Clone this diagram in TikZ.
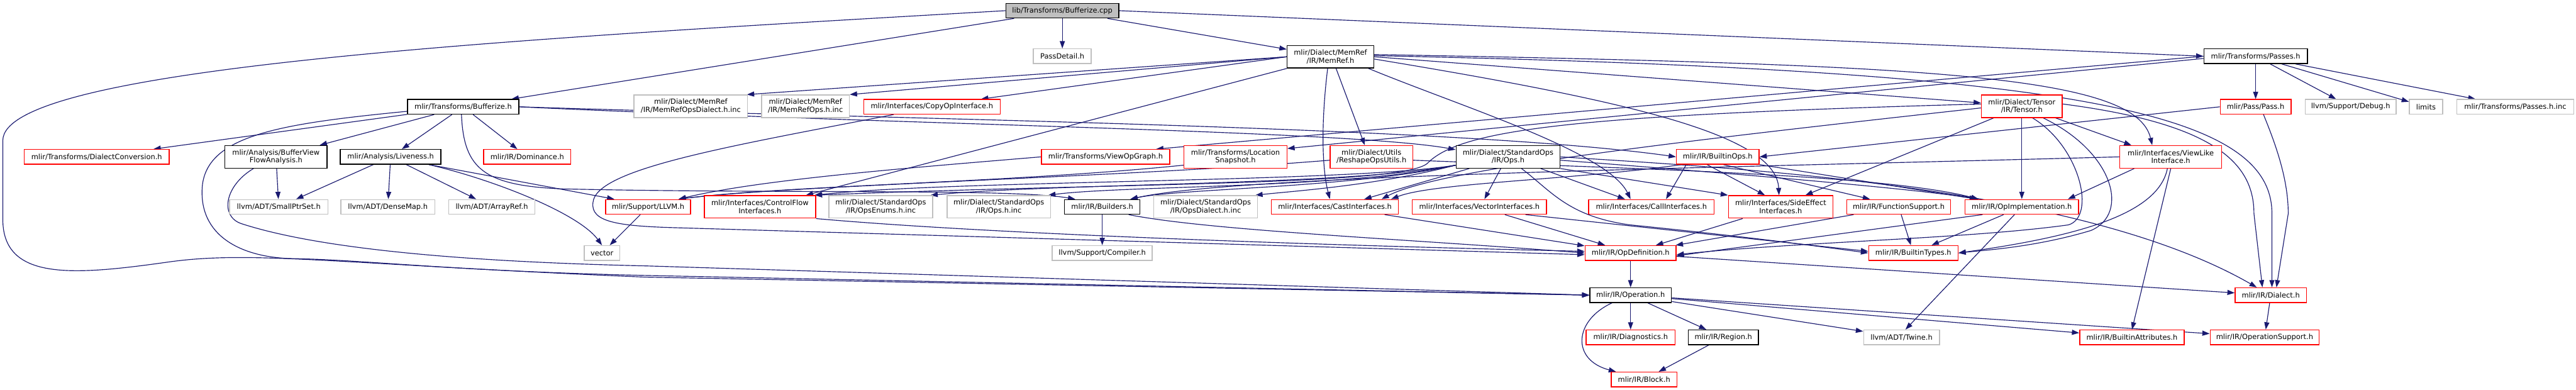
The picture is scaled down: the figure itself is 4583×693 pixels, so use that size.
\documentclass[tikz,border=0pt]{standalone}
\usepackage{fontspec}
\newfontfamily\dvs{DejaVu Sans}
\usetikzlibrary{arrows.meta}
\definecolor{edgec}{HTML}{191970}
\definecolor{gborder}{HTML}{BFBFBF}
\definecolor{rborder}{HTML}{FF0000}
\pgfdeclarelayer{bglayer}
\pgfdeclarelayer{edgelayer}
\pgfsetlayers{bglayer,edgelayer,main}
\begin{document}
\begin{tikzpicture}[x=1pt,y=-1pt,
  box/.style={rectangle, line width=1.6pt, font=\dvs\fontsize{12.8pt}{14pt}\selectfont, align=center, inner xsep=2pt, inner ysep=0pt, minimum height=26pt, fill=white},
  nb/.style={box, draw=black},
  nr/.style={box, draw=rborder},
  ng/.style={box, draw=gborder},
  two/.style={minimum height=40pt},
  e/.style={draw=edgec, line width=1.3pt, -{Triangle[length=13pt,width=9pt]}}]
\begin{pgfonlayer}{bglayer}
\fill[white] (0,0) rectangle (4583,693);
\end{pgfonlayer}
\useasboundingbox (0,0) rectangle (4583,693);
% nodes
\node[box, draw=black, fill=gborder, minimum width=201pt] (cpp) at (1890,19) {lib/Transforms/Bufferize.cpp};
\node[ng, minimum width=103pt] (passdetail) at (1890,100) {PassDetail.h};
\node[nb, two, minimum width=154pt] (memref) at (2367,101) {mlir/Dialect/MemRef\\/IR/MemRef.h};
\node[nb, minimum width=184pt] (passes) at (4013,100) {mlir/Transforms/Passes.h};
\node[nb, minimum width=198pt] (bufh) at (824,190) {mlir/Transforms/Bufferize.h};
\node[ng, two, minimum width=202pt] (memrefdialinc) at (1229,189) {mlir/Dialect/MemRef\\/IR/MemRefOpsDialect.h.inc};
\node[ng, two, minimum width=156pt] (memrefopsinc) at (1433,189) {mlir/Dialect/MemRef\\/IR/MemRefOps.h.inc};
\node[nr, minimum width=243pt] (copyop) at (1658,190) {mlir/Interfaces/CopyOpInterface.h};
\node[nr, two, minimum width=144pt] (tensor) at (3597,189) {mlir/Dialect/Tensor\\/IR/Tensor.h};
\node[nr, minimum width=126pt] (pass) at (4013,190) {mlir/Pass/Pass.h};
\node[ng, minimum width=162pt] (debug) at (4182,190) {llvm/Support/Debug.h};
\node[ng, minimum width=59pt] (limits) at (4316,190) {limits};
\node[ng, minimum width=208pt] (passesinc) at (4475,190) {mlir/Transforms/Passes.h.inc};
\node[nr, minimum width=258pt] (dialconv) at (172,279) {mlir/Transforms/DialectConversion.h};
\node[nb, two, minimum width=182pt] (bvfa) at (491,279) {mlir/Analysis/BufferView\\FlowAnalysis.h};
\node[nb, minimum width=179pt] (liveness) at (695,279) {mlir/Analysis/Liveness.h};
\node[nr, minimum width=155pt] (dominance) at (938,279) {mlir/IR/Dominance.h};
\node[nr, minimum width=228pt] (viewopgraph) at (1967,279) {mlir/Transforms/ViewOpGraph.h};
\node[nr, two, minimum width=183pt] (locsnap) at (2198,279) {mlir/Transforms/Location\\Snapshot.h};
\node[nr, two, minimum width=147pt] (reshape) at (2440,279) {mlir/Dialect/Utils\\/ReshapeOpsUtils.h};
\node[nb, two, minimum width=185pt] (stdops) at (2683,279) {mlir/Dialect/StandardOps\\/IR/Ops.h};
\node[nr, minimum width=147pt] (builtinops) at (3056,279) {mlir/IR/BuiltinOps.h};
\node[nr, two, minimum width=181pt] (viewlike) at (3862,279) {mlir/Interfaces/ViewLike\\Interface.h};
\node[ng, minimum width=175pt] (smallptr) at (496,368) {llvm/ADT/SmallPtrSet.h};
\node[ng, minimum width=167pt] (densemap) at (690,368) {llvm/ADT/DenseMap.h};
\node[ng, minimum width=153pt] (arrayref) at (875,368) {llvm/ADT/ArrayRef.h};
\node[nr, minimum width=151pt] (llvmh) at (1153,368) {mlir/Support/LLVM.h};
\node[nr, two, minimum width=198pt] (cfi) at (1352,368) {mlir/Interfaces/ControlFlow\\Interfaces.h};
\node[ng, two, minimum width=185pt] (opsenums) at (1567,368) {mlir/Dialect/StandardOps\\/IR/OpsEnums.h.inc};
\node[ng, two, minimum width=184pt] (opsinc) at (1777,368) {mlir/Dialect/StandardOps\\/IR/Ops.h.inc};
\node[nb, minimum width=134pt] (builders) at (1961,368) {mlir/IR/Builders.h};
\node[ng, two, minimum width=185pt] (opsdialinc) at (2145,368) {mlir/Dialect/StandardOps\\/IR/OpsDialect.h.inc};
\node[nr, minimum width=226pt] (cast) at (2375,368) {mlir/Interfaces/CastInterfaces.h};
\node[nr, minimum width=239pt] (vectori) at (2632,368) {mlir/Interfaces/VectorInterfaces.h};
\node[nr, minimum width=223pt] (call) at (2938,368) {mlir/Interfaces/CallInterfaces.h};
\node[nr, two, minimum width=186pt] (sideeffect) at (3168,368) {mlir/Interfaces/SideEffect\\Interfaces.h};
\node[nr, minimum width=185pt] (funcsupport) at (3378,368) {mlir/IR/FunctionSupport.h};
\node[nr, minimum width=202pt] (opimpl) at (3597,368) {mlir/IR/OpImplementation.h};
\node[ng, minimum width=63pt] (vector) at (1071,450) {vector};
\node[ng, minimum width=178pt] (compiler) at (1961,450) {llvm/Support/Compiler.h};
\node[nr, minimum width=162pt] (opdef) at (2901,450) {mlir/IR/OpDefinition.h};
\node[nr, minimum width=159pt] (builtintypes) at (3404,450) {mlir/IR/BuiltinTypes.h};
\node[nb, minimum width=145pt] (operation) at (2901,525) {mlir/IR/Operation.h};
\node[nr, minimum width=127pt] (dialect) at (4040,525) {mlir/IR/Dialect.h};
\node[nr, minimum width=158pt] (diagnostics) at (2901,600) {mlir/IR/Diagnostics.h};
\node[nb, minimum width=125pt] (region) at (3066,600) {mlir/IR/Region.h};
\node[ng, minimum width=135pt] (twine) at (3383,600) {llvm/ADT/Twine.h};
\node[nr, minimum width=186pt] (builtinattr) at (3793,600) {mlir/IR/BuiltinAttributes.h};
\node[nr, minimum width=194pt] (opsupport) at (4029,600) {mlir/IR/OperationSupport.h};
\node[nr, minimum width=117pt] (block) at (2925,675) {mlir/IR/Block.h};
\begin{pgfonlayer}{edgelayer}
% edges from Bufferize.cpp
\draw[e] (cpp) -- (passdetail);
\draw[e] (cpp) -- (memref);
\draw[e] (cpp.east) -- (passes.west);
\draw[e] (cpp) -- (bufh);
\draw[e] (cpp.west) .. controls (900,70) and (5,120) .. (5,250) -- (5,390) .. controls (5,500) and (130,490) .. (300,466) .. controls (450,445) and (600,470) .. (1150,493) -- (operation.west);
% Bufferize.h
\draw[e] (bufh) -- (dialconv);
\draw[e] (bufh) -- (bvfa);
\draw[e] (bufh) -- (liveness);
\draw[e] (bufh) -- (dominance);
\draw[e] (bufh.east) .. controls (1600,222) and (2400,232) .. ([yshift=-8pt]stdops.north west);
\draw[e] (bufh.east) .. controls (1600,212) and (2600,225) .. (builtinops.west);
\draw[e] ([xshift=-3pt]bufh.south) .. controls (825,300) and (860,330) .. (1000,336) .. controls (1400,345) and (1800,335) .. ([xshift=-48pt]builders.north);
\draw[e] ([yshift=-8pt]bufh.west) .. controls (500,220) and (370,240) .. (360,330) .. controls (352,420) and (430,458) .. (520,460) .. controls (650,462) and (800,482) .. (1150,490) -- (operation.west);
% BufferViewFlowAnalysis / Liveness
\draw[e] (bvfa) -- (smallptr);
\draw[e] ([xshift=-40pt]bvfa.south) .. controls (400,330) and (390,385) .. (430,398) .. controls (560,440) and (800,465) .. (1150,473) -- (operation.west);
\draw[e] (liveness) -- (smallptr);
\draw[e] (liveness) -- (densemap);
\draw[e] (liveness) -- (arrayref);
\draw[e] ([xshift=68pt]liveness.south) .. controls (880,320) and (1030,380) .. (vector.north);
\draw[e] ([xshift=68pt]liveness.south) -- ([xshift=-60pt]llvmh.north);
\draw[e] (llvmh) -- (vector);
% MemRef.h
\draw[e] (memref.west) -- ([xshift=-2pt]memrefdialinc.north east);
\draw[e] (memref.west) -- (memrefopsinc.north east);
\draw[e] (memref.west) -- ([xshift=-35pt]copyop.north east);
\draw[e] (memref.south west) -- ([xshift=-18pt]cfi.north east);
\draw[e] ([xshift=-5pt]memref.south) .. controls (2350,220) and (2352,300) .. ([xshift=-9pt]cast.north);
\draw[e] ([xshift=10pt]memref.south) -- ([xshift=-12pt]reshape.north);
\draw[e] ([xshift=-10pt]memref.south east) .. controls (2600,190) and (2860,270) .. ([xshift=-37pt]call.north);
\draw[e] ([yshift=-4pt]memref.east) .. controls (2900,180) and (3160,240) .. ([xshift=-3pt]sideeffect.north);
\draw[e] (memref.east) -- ([yshift=6pt]tensor.west);
\draw[e] ([yshift=4pt]memref.east) .. controls (3450,115) and (3800,135) .. ([xshift=-33pt]viewlike.north);
\draw[e] ([yshift=2pt]memref.east) .. controls (3700,125) and (4042,200) .. (4042,380) -- ([xshift=2pt]dialect.north);
% Passes.h
\draw[e] (passes) -- (pass);
\draw[e] (passes) -- (debug);
\draw[e] (passes) -- (limits);
\draw[e] (passes) -- (passesinc);
\draw[e] (passes.west) -- ([xshift=-25pt]viewopgraph.north east);
\draw[e] ([yshift=-4pt]passes.west) -- ([yshift=-6pt]locsnap.north east);
% Tensor.h
\draw[e] ([yshift=4pt]tensor.west) .. controls (2800,205) and (2600,230) .. (2540,290) .. controls (2500,330) and (2000,325) .. ([xshift=-2pt]cfi.north east);
\draw[e] ([yshift=-3pt]tensor.west) .. controls (3000,250) and (2560,300) .. ([xshift=83pt]cast.north);
\draw[e] ([xshift=-50pt]tensor.south) -- ([xshift=44pt]sideeffect.north);
\draw[e] (tensor) -- (opimpl);
\draw[e] ([xshift=60pt]tensor.south) -- ([xshift=-70pt]viewlike.north);
\draw[e] ([yshift=4pt]tensor.east) .. controls (3940,220) and (4010,290) .. (4010,380) -- ([xshift=-15pt]dialect.north);
\draw[e] ([xshift=19pt]tensor.south) .. controls (3700,260) and (3730,385) .. (3680,400) .. controls (3500,425) and (3200,430) .. ([yshift=-3pt]opdef.east);
\draw[e] ([xshift=38pt]tensor.south) .. controls (3760,270) and (3790,380) .. (3720,410) .. controls (3620,440) and (3530,445) .. (builtintypes.east);
% Pass.h
\draw[e] (pass.west) -- (builtinops.east);
\draw[e] ([xshift=14pt]pass.south) .. controls (4050,260) and (4071,320) .. (4071,380) -- ([xshift=10pt]dialect.north);
% into LLVM.h
\draw[e] (viewopgraph.west) .. controls (1600,300) and (1350,320) .. ([xshift=-22pt]llvmh.north east);
\draw[e] ([yshift=6pt]locsnap.south west) .. controls (1800,325) and (1400,330) .. ([xshift=-22pt]llvmh.north east);
\draw[e] ([yshift=-6pt]reshape.west) .. controls (2000,315) and (1400,330) .. ([xshift=-22pt]llvmh.north east);
\draw[e] ([yshift=-6pt]reshape.east) .. controls (2900,300) and (3350,310) .. ([xshift=-77pt]opimpl.north);
% StandardOps/IR/Ops.h
\draw[e] ([yshift=6pt]stdops.south west) .. controls (2400,325) and (1700,320) .. ([xshift=-3pt]cfi.north east);
\draw[e] ([yshift=6pt]stdops.south west) .. controls (2400,330) and (1900,325) .. ([xshift=-5pt]opsenums.north east);
\draw[e] ([yshift=6pt]stdops.south west) .. controls (2400,335) and (2000,330) .. ([xshift=-5pt]opsinc.north east);
\draw[e] ([yshift=6pt]stdops.south west) .. controls (2400,335) and (2100,335) .. ([xshift=50pt]builders.north);
\draw[e] ([yshift=6pt]stdops.south west) .. controls (2450,330) and (2300,340) .. ([xshift=-5pt]opsdialinc.north east);
\draw[e] ([xshift=-69pt]stdops.south) -- ([xshift=52pt]cast.north);
\draw[e] ([xshift=-13pt]stdops.south) -- ([xshift=9pt]vectori.north);
\draw[e] ([xshift=24pt]stdops.south) .. controls (2760,340) and (2790,385) .. (2900,400) .. controls (3100,420) and (3250,440) .. (builtintypes.west);
\draw[e] ([xshift=58pt]stdops.south) -- ([xshift=-47pt]call.north);
\draw[e] (stdops.south east) -- (sideeffect.north west);
\draw[e] ([yshift=-6pt]stdops.east) .. controls (3100,310) and (3400,335) .. ([xshift=-77pt]opimpl.north);
\draw[e] (stdops.east) .. controls (3100,300) and (3700,330) .. ([xshift=-25pt]dialect.north);
% BuiltinOps.h
\draw[e] ([xshift=-64pt]builtinops.south) .. controls (2800,320) and (2550,325) .. ([xshift=100pt]cast.north);
\draw[e] ([xshift=-56pt]builtinops.south) -- ([xshift=26pt]call.north);
\draw[e] ([xshift=-19pt]builtinops.south) -- ([xshift=-28pt]sideeffect.north);
\draw[e] ([xshift=10pt]builtinops.south) -- ([xshift=-51pt]funcsupport.north);
\draw[e] (builtinops.south east) -- ([xshift=-80pt]opimpl.north);
% ViewLikeInterface.h
\draw[e] (viewlike.west) .. controls (3000,300) and (2200,312) .. ([xshift=50pt]builders.north);
\draw[e] ([xshift=-65pt]viewlike.south) -- ([xshift=82pt]opimpl.north);
\draw[e] ([xshift=-6pt]viewlike.south) .. controls (3840,380) and (3700,420) .. (builtintypes.east);
\draw[e] (viewlike.south) -- (builtinattr.north);
% into OpDefinition.h
\draw[e] (cfi.south east) .. controls (1800,420) and (2500,440) .. ([yshift=3pt]opdef.west);
\draw[e] ([xshift=47pt]builders.south) .. controls (2150,410) and (2500,425) .. (opdef.west);
\draw[e] ([xshift=54pt]copyop.south west) .. controls (1300,260) and (1060,300) .. (1055,360) .. controls (1050,395) and (1100,402) .. (1200,405) -- ([yshift=-3pt]opdef.west);
\draw[e] (cast) -- (opdef);
\draw[e] (vectori) -- (opdef);
\draw[e] ([xshift=82pt]vectori.south) -- ([yshift=3pt]builtintypes.west);
\draw[e] (sideeffect) -- (opdef);
\draw[e] (funcsupport) -- (opdef);
\draw[e] (funcsupport) -- (builtintypes);
\draw[e] (opimpl) -- (builtintypes);
\draw[e] ([xshift=-70pt]opimpl.south) -- ([yshift=-5pt]opdef.east);
\draw[e] ([xshift=-13pt]opimpl.south) -- ([xshift=7pt]twine.north);
\draw[e] (builders) -- (compiler);
% OpDefinition.h / Operation.h
\draw[e] (opdef) -- (operation);
\draw[e] ([yshift=-6pt]opdef.east) -- ([yshift=4pt]dialect.west);
\draw[e] ([xshift=-33pt]operation.south) .. controls (2800,570) and (2795,640) .. ([xshift=-50pt]block.north);
\draw[e] (operation) -- (diagnostics);
\draw[e] (operation) -- (region);
\draw[e] (operation) -- (twine);
\draw[e] (operation) -- (builtinattr);
\draw[e] (operation) -- (opsupport);
\draw[e] (region) -- (block);
\draw[e] (dialect) -- (opsupport);
\end{pgfonlayer}
\end{tikzpicture}
\end{document}
